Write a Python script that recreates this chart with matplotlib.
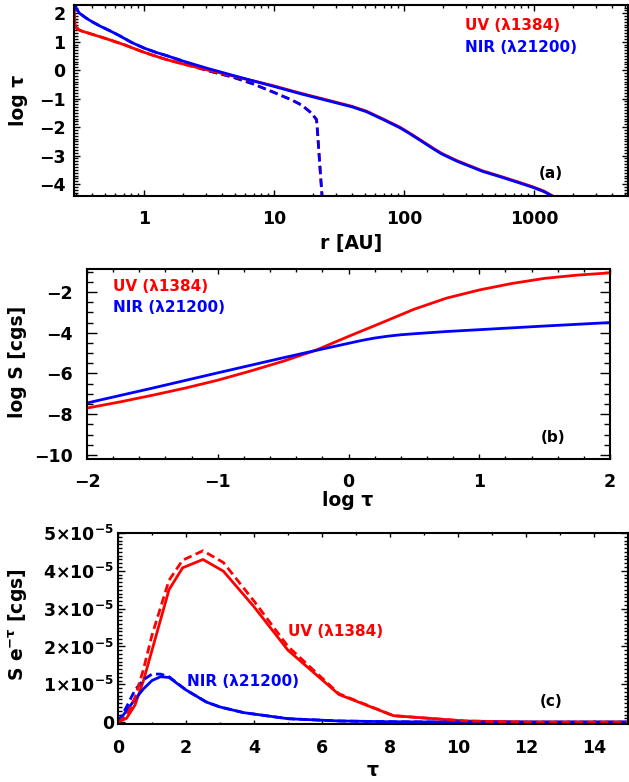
import matplotlib
matplotlib.use('Agg')
import matplotlib.pyplot as plt
from matplotlib.ticker import MultipleLocator, FixedLocator, FixedFormatter, LogLocator, NullFormatter

plt.rcParams['font.family'] = ['DejaVu Sans']
plt.rcParams['font.weight'] = 'bold'
plt.rcParams['mathtext.default'] = 'bf'
plt.rcParams['axes.unicode_minus'] = True

# ---------------- data ----------------
# panel (a): log tau vs r [AU]
a_red_r = [0.290, 0.292, 0.295, 0.30, 0.31, 0.33, 0.37, 0.42, 0.48, 0.55, 0.63, 0.72, 0.83, 1.0, 1.2, 1.5,
           2.0, 3.0, 5.0, 7.0, 10, 15.8, 28.6, 40, 51.6, 69, 93, 110, 125, 145, 168, 195, 226, 260, 303,
           400, 547, 750, 988, 1200, 1400]
a_red_y = [2.4, 1.95, 1.62, 1.50, 1.44, 1.38, 1.31, 1.23, 1.15, 1.06, 0.97, 0.88, 0.77, 0.63, 0.51, 0.37,
           0.22, 0.02, -0.22, -0.38, -0.55, -0.80, -1.10, -1.27, -1.44, -1.71, -2.00, -2.20, -2.36, -2.55,
           -2.74, -2.92, -3.06, -3.19, -3.31, -3.53, -3.72, -3.92, -4.10, -4.25, -4.42]
a_blue_r = [0.290, 0.30, 0.32, 0.36, 0.40, 0.46, 0.55, 0.65, 0.80, 1.0, 1.25, 1.5, 2.0, 3.0, 5.0, 7.0, 10,
            15.8, 28.6, 40, 51.6, 69, 93, 110, 125, 145, 168, 195, 226, 260, 303, 400, 547, 750, 988,
            1200, 1400]
a_blue_y = [2.32, 2.18, 2.00, 1.83, 1.70, 1.55, 1.38, 1.21, 0.98, 0.78, 0.62, 0.51, 0.32, 0.08, -0.20,
            -0.38, -0.57, -0.82, -1.12, -1.29, -1.46, -1.73, -2.02, -2.22, -2.38, -2.57, -2.76, -2.94,
            -3.08, -3.21, -3.33, -3.55, -3.74, -3.94, -4.12, -4.27, -4.44]
a_red_dash_r = [0.290, 0.292, 0.295, 0.30, 0.31, 0.33, 0.37, 0.42, 0.48, 0.55, 0.63, 0.72, 0.83, 1.0, 1.2,
                1.5, 2.0, 3.0, 4.8, 6.9, 10, 13.6, 16.3, 19.5, 21.3, 21.7, 22.6, 23.5]
a_red_dash_y = [2.4, 1.95, 1.62, 1.50, 1.44, 1.38, 1.31, 1.23, 1.15, 1.06, 0.97, 0.88, 0.77, 0.63, 0.51,
                0.37, 0.22, 0.0, -0.24, -0.48, -0.78, -1.04, -1.22, -1.51, -1.74, -2.21, -3.38, -4.45]
a_blue_dash_r = [0.290, 0.30, 0.32, 0.36, 0.40, 0.46, 0.55, 0.65, 0.80, 1.0, 1.25, 1.5, 2.0, 3.0, 4.8, 6.9,
                 10, 13.6, 16.3, 19.5, 21.3, 21.7, 22.6, 23.5]
a_blue_dash_y = [2.32, 2.18, 2.00, 1.83, 1.70, 1.55, 1.38, 1.21, 0.98, 0.78, 0.62, 0.51, 0.32, 0.0, -0.24,
                 -0.48, -0.78, -1.04, -1.22, -1.51, -1.74, -2.21, -3.38, -4.45]
a_xticks = [1, 10, 100, 1000]
a_xticklabels = ['1', '10', '100', '1000']

# panel (b): log S vs log tau
b_red_x = [-2.0, -1.75, -1.5, -1.25, -1.0, -0.75, -0.5, -0.25, 0.0, 0.25, 0.5, 0.75, 1.0, 1.25, 1.5, 1.75, 2.0]
b_red_y = [-7.70, -7.40, -7.07, -6.72, -6.33, -5.88, -5.40, -4.86, -4.18, -3.52, -2.85, -2.30, -1.90,
           -1.58, -1.33, -1.17, -1.06]
b_blue_x = [-2.0, -1.5, -1.0, -0.5, -0.25, 0.0, 0.1, 0.2, 0.3, 0.4, 0.5, 0.75, 1.0, 1.5, 2.0]
b_blue_y = [-7.45, -6.72, -5.97, -5.23, -4.87, -4.52, -4.38, -4.26, -4.17, -4.10, -4.05, -3.94, -3.85,
            -3.67, -3.50]

# panel (c): S e^-tau vs tau
c_tau = [0, 0.25, 0.5, 0.75, 1.0, 1.5, 1.9, 2.5, 3.1, 4.0, 5.0, 6.5, 8.1, 10.2, 12, 15]
c_red = [0, 0.1e-5, 0.45e-5, 1.1e-5, 1.9e-5, 3.5e-5, 4.08e-5, 4.3e-5, 3.99e-5, 3.05e-5, 1.9e-5,
         0.73e-5, 0.17e-5, 0.03e-5, 0.0, 0.0]
c_red_dash = [0, 0.15e-5, 0.65e-5, 1.4e-5, 2.3e-5, 3.75e-5, 4.28e-5, 4.53e-5, 4.22e-5, 3.2e-5, 2.0e-5,
              0.75e-5, 0.17e-5, 0.03e-5, 0.0, 0.0]
c_tau_b = [0, 0.25, 0.5, 0.75, 1.0, 1.25, 1.5, 2.0, 2.6, 3.0, 3.7, 5.0, 6.5, 8.0, 10, 15]
c_blue = [0, 0.3e-5, 0.6e-5, 0.88e-5, 1.1e-5, 1.2e-5, 1.18e-5, 0.85e-5, 0.53e-5, 0.4e-5, 0.25e-5, 0.09e-5,
          0.03e-5, 0.01e-5, 0.0, 0.0]
c_blue_dash = [0, 0.4e-5, 0.85e-5, 1.12e-5, 1.27e-5, 1.27e-5, 1.2e-5, 0.85e-5, 0.53e-5, 0.4e-5, 0.25e-5,
               0.09e-5, 0.03e-5, 0.01e-5, 0.0, 0.0]
c_yticks = [0, 1e-5, 2e-5, 3e-5, 4e-5, 5e-5]
c_yticklabels = ['0', '1×10$^{-5}$', '2×10$^{-5}$', '3×10$^{-5}$', '4×10$^{-5}$', '5×10$^{-5}$']

uv_label = 'UV (λ1384)'
nir_label = 'NIR (λ21200)'

# ---------------- figure ----------------
W, H = 629, 782
fig = plt.figure(figsize=(W / 100, H / 100), dpi=100)
RED = '#ff0000'
BLUE = '#0000ff'
LW = 2.0
TICKFS = 12.5
LABFS = 13.5
LEGFS = 11


def px_axes(l, t, r, b):
    return fig.add_axes([l / W, 1 - b / H, (r - l) / W, (b - t) / H])


def ftext(x, y, s, **kw):
    fig.text(x / W, 1 - y / H, s, **kw)


def style(ax, xmaj, xmin, ymaj, ymin, xpad, ypad):
    for sp in ax.spines.values():
        sp.set_linewidth(1.5)
    ax.tick_params(which='both', direction='in', top=True, right=True, width=1.0,
                   labelsize=TICKFS)
    ax.tick_params(axis='x', which='major', length=xmaj, pad=xpad)
    ax.tick_params(axis='x', which='minor', length=xmin)
    ax.tick_params(axis='y', which='major', length=ymaj, pad=ypad)
    ax.tick_params(axis='y', which='minor', length=ymin)
    for lab in ax.get_xticklabels() + ax.get_yticklabels():
        lab.set_fontweight('bold')


# ---- panel (a)
ax1 = px_axes(74, 5, 628, 196)
ax1.set_xscale('log')
ax1.plot(a_red_dash_r, a_red_dash_y, color=RED, lw=LW, dashes=(3, 1.6))
ax1.plot(a_blue_dash_r, a_blue_dash_y, color=BLUE, lw=LW, dashes=(3, 1.6))
ax1.plot(a_red_r, a_red_y, color=RED, lw=LW)
ax1.plot(a_blue_r, a_blue_y, color=BLUE, lw=LW)
ax1.set_xlim(0.29, 5300)
ax1.set_ylim(-4.42, 2.29)
ax1.xaxis.set_major_locator(FixedLocator(a_xticks))
ax1.xaxis.set_major_formatter(FixedFormatter(a_xticklabels))
ax1.xaxis.set_minor_locator(LogLocator(base=10, subs=range(2, 10)))
ax1.xaxis.set_minor_formatter(NullFormatter())
ax1.yaxis.set_major_locator(MultipleLocator(1))
ax1.yaxis.set_minor_locator(MultipleLocator(0.1))
style(ax1, 4, 2.2, 4.5, 2.8, 10, 6)
ftext(465, 25, uv_label, color=RED, fontsize=LEGFS, fontweight='bold', va='center')
ftext(465, 47, nir_label, color=BLUE, fontsize=LEGFS, fontweight='bold', va='center')
ftext(551, 173, '(a)', color='black', fontsize=LEGFS, fontweight='bold', va='center', ha='center')
ftext(351, 243, 'r [AU]', fontsize=LABFS, fontweight='bold', ha='center', va='center')
ftext(18, 100, 'log τ', fontsize=LABFS, fontweight='bold', ha='center', va='center', rotation=90)

# ---- panel (b)
ax2 = px_axes(87, 269, 610, 459)
ax2.plot(b_red_x, b_red_y, color=RED, lw=LW)
ax2.plot(b_blue_x, b_blue_y, color=BLUE, lw=LW)
ax2.set_xlim(-2, 2)
ax2.set_ylim(-10.2, -0.87)
ax2.xaxis.set_major_locator(MultipleLocator(1))
ax2.xaxis.set_minor_locator(MultipleLocator(0.2))
ax2.yaxis.set_major_locator(MultipleLocator(2))
ax2.yaxis.set_minor_locator(MultipleLocator(0.5))
style(ax2, 3.6, 2.0, 7.2, 4.2, 10, 10)
ftext(113, 287, uv_label, color=RED, fontsize=LEGFS, fontweight='bold', va='center')
ftext(113, 308, nir_label, color=BLUE, fontsize=LEGFS, fontweight='bold', va='center')
ftext(553, 437, '(b)', color='black', fontsize=LEGFS, fontweight='bold', va='center', ha='center')
ftext(348, 500, 'log τ', fontsize=LABFS, fontweight='bold', ha='center', va='center')
ftext(18, 362, 'log S [cgs]', fontsize=LABFS, fontweight='bold', ha='center', va='center', rotation=90)

# ---- panel (c)
ax3 = px_axes(118, 533, 628, 724)
ax3.plot(c_tau, c_red, color=RED, lw=LW)
ax3.plot(c_tau_b, c_blue, color=BLUE, lw=LW)
ax3.plot(c_tau_b, c_blue_dash, color=BLUE, lw=LW, dashes=(3, 1.6))
ax3.plot(c_tau, c_red_dash, color=RED, lw=LW, dashes=(3, 1.6))
ax3.set_xlim(0, 15)
ax3.set_ylim(-0.05e-5, 5e-5)
ax3.xaxis.set_major_locator(MultipleLocator(2))
ax3.xaxis.set_minor_locator(MultipleLocator(1))
ax3.yaxis.set_major_locator(FixedLocator(c_yticks))
ax3.yaxis.set_major_formatter(FixedFormatter(c_yticklabels))
ax3.yaxis.set_minor_locator(MultipleLocator(1e-6))
style(ax3, 3.0, 1.6, 5.0, 2.8, 11, 3)
ftext(288, 632, uv_label, color=RED, fontsize=LEGFS, fontweight='bold', va='center')
ftext(187, 682, nir_label, color=BLUE, fontsize=LEGFS, fontweight='bold', va='center')
ftext(551, 702, '(c)', color='black', fontsize=LEGFS, fontweight='bold', va='center', ha='center')
ftext(373, 770, 'τ', fontsize=LABFS, fontweight='bold', ha='center', va='center')
ftext(18, 625, 'S e$^{-\\tau}$ [cgs]', fontsize=LABFS, fontweight='bold', ha='center', va='center',
      rotation=90)

fig.savefig('out.png', dpi=100)
